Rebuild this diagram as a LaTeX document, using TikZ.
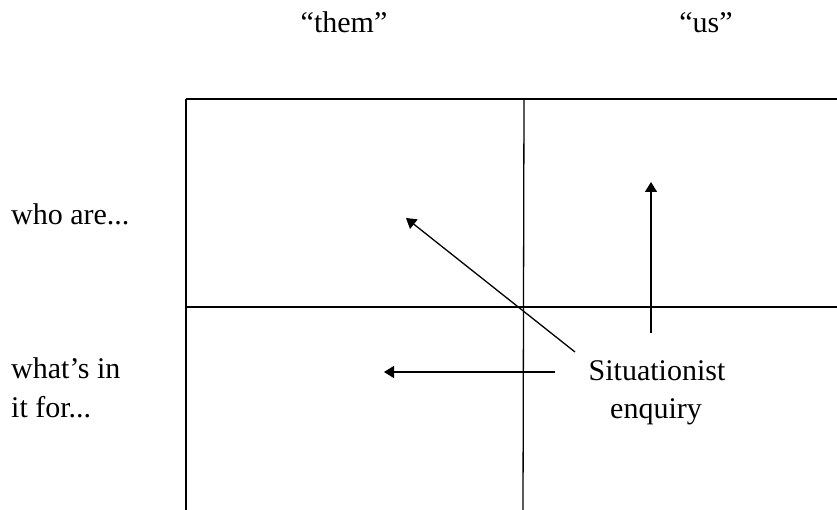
\documentclass[tikz,border=0pt]{standalone}
\usepackage{fontspec}
\setmainfont{Liberation Serif}
\usetikzlibrary{arrows.meta}
\begin{document}
\begin{tikzpicture}[x=1pt,y=-1pt,
  lbl/.style={inner sep=0pt, font=\fontsize{30}{39}\selectfont},
  gridline/.style={line width=1.6pt, line cap=butt},
  vgridline/.style={line width=1.3pt, line cap=butt},
  arr/.style={line width=1.3pt, -{Triangle[length=10pt,width=12pt]}}]
\useasboundingbox (0,0) rectangle (837,510);
% grid corners
\coordinate (tl) at (186,99);
\coordinate (tm) at (524,99);
\coordinate (tr) at (837,99);
\coordinate (ml) at (186,307);
\coordinate (mr) at (837,307);
\coordinate (bl) at (186,510);
\coordinate (bm) at (523,510);
\draw[gridline] (tl) -- (tr);
\draw[gridline] (ml) -- (mr);
\draw[vgridline] (tl) -- (bl);
\draw[vgridline] (tm) -- (bm);
% labels
\node[lbl, anchor=base] (them) at (344,33) {“them”};
\node[lbl, anchor=base] (us) at (706,33) {“us”};
\node[lbl, anchor=base west] (who) at (11,225) {who are...};
\node[lbl, anchor=base west] (what) at (11,378) {what’s in};
\node[lbl, anchor=base west] (itfor) at (11,417) {it for...};
\node[lbl, anchor=base] (sit) at (657,380) {Situationist};
\node[lbl, anchor=base] (enq) at (656,418) {enquiry};
% arrows
\coordinate (dtail) at (575,352);
\coordinate (dtip) at (406,218);
\coordinate (utail) at (651,333);
\coordinate (utip) at (651,182);
\coordinate (ltail) at (555,372);
\coordinate (ltip) at (384,372);
\draw[arr] (dtail) -- (dtip);
\draw[arr] (utail) -- (utip);
\draw[arr] (ltail) -- (ltip);
\end{tikzpicture}
\end{document}
